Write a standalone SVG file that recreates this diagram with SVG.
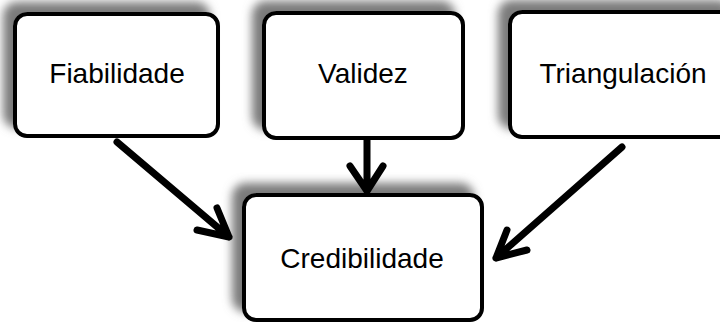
<svg xmlns="http://www.w3.org/2000/svg" width="720" height="322" viewBox="0 0 720 322">
<defs>
<filter id="sh" x="-20%" y="-30%" width="140%" height="160%">
<feDropShadow dx="-10" dy="-10" stdDeviation="5" flood-color="#7a7a7a" flood-opacity="1"/>
</filter>
</defs>
<style>
.box{fill:#fff;stroke:#000;stroke-width:4;filter:url(#sh)}
.lbl{font-family:"Liberation Sans",Arial,sans-serif;font-size:28px;fill:#000;text-anchor:middle}
.arr{fill:none;stroke:#000;stroke-width:7;stroke-linecap:round;stroke-linejoin:round}
</style>
<rect width="720" height="322" fill="#fff"/>
<g id="fiabilidade">
<rect class="box" x="15" y="14" width="203" height="122" rx="12"/>
<text class="lbl" x="117" y="83">Fiabilidade</text>
</g>
<g id="validez">
<rect class="box" x="264" y="13" width="199" height="125" rx="12"/>
<text class="lbl" x="363" y="83">Validez</text>
</g>
<g id="triangulacion">
<rect class="box" x="510" y="12" width="230" height="125" rx="12"/>
<text class="lbl" x="623" y="83">Triangulación</text>
</g>
<g id="credibilidade">
<rect class="box" x="244" y="195" width="238" height="125" rx="12"/>
<text class="lbl" x="362" y="268">Credibilidade</text>
</g>
<g id="connectors">
<path class="arr" d="M117,142 L229,237 M217,208 L229,237 L197,230"/>
<path class="arr" d="M367,140 L367,191 M350,166 L367,191 L383,166"/>
<path class="arr" d="M622,147 L496,258 M507,230 L496,258 L527,250"/>
</g>
</svg>
